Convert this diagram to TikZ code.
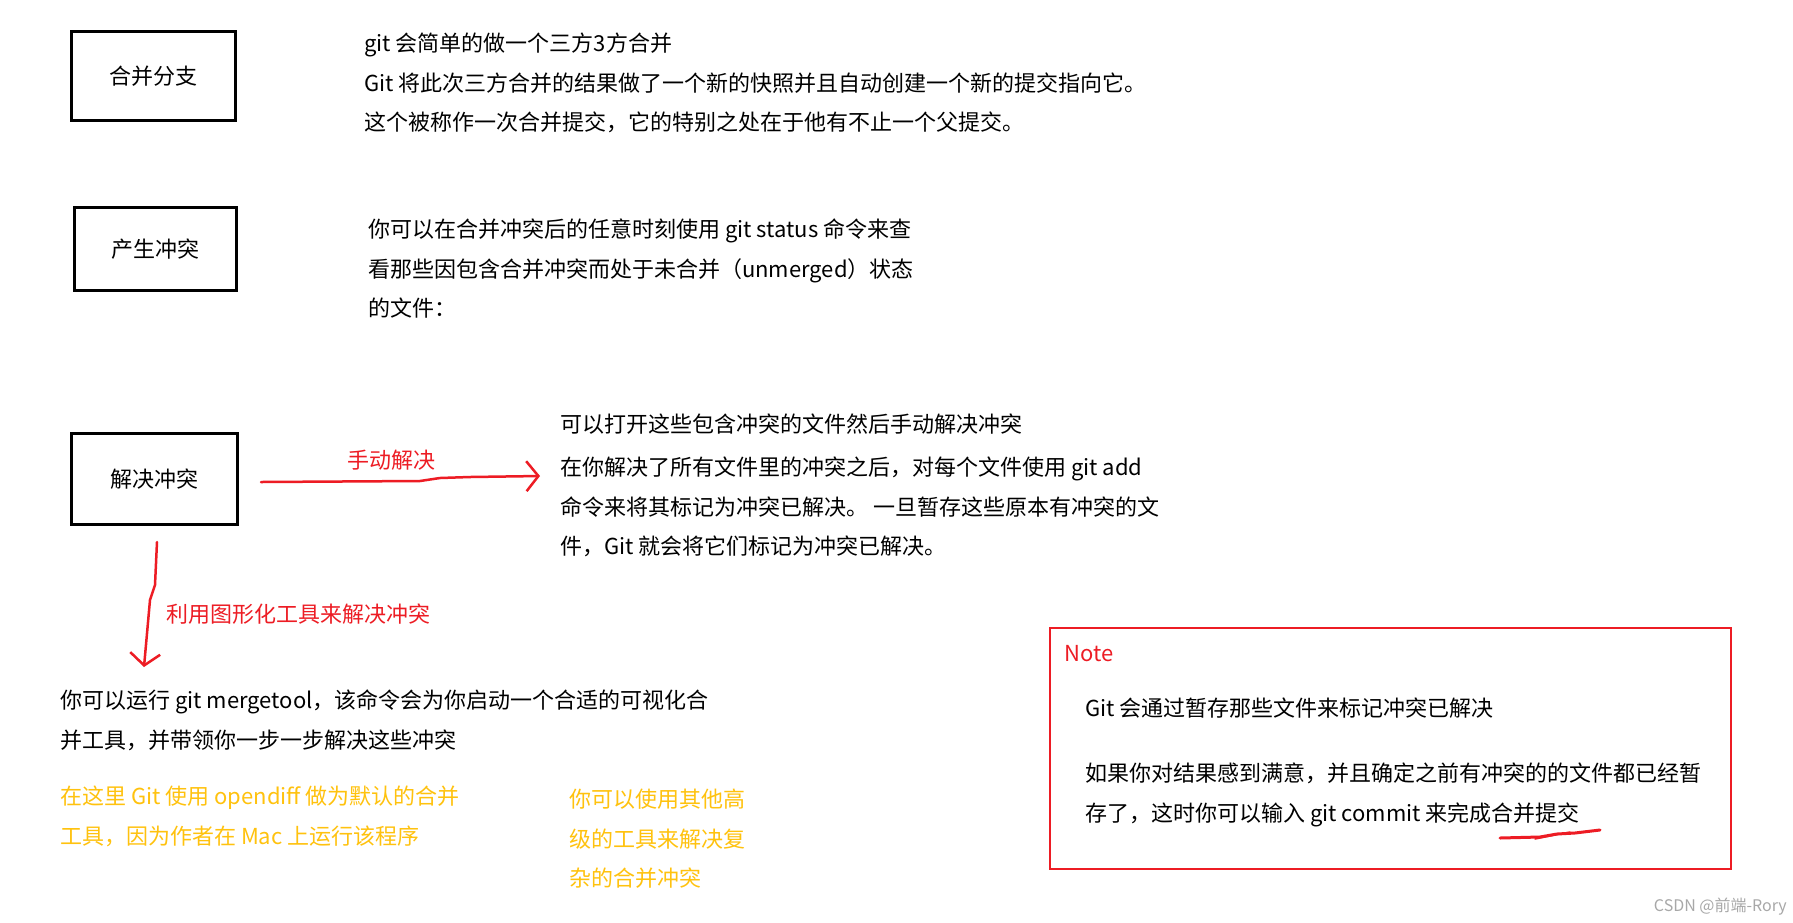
\documentclass[tikz,border=0pt]{standalone}
\usepackage{fontspec}
\setmainfont{Noto Sans CJK SC}
\usetikzlibrary{arrows.meta}
\definecolor{pred}{HTML}{ED1C24}
\definecolor{pgold}{HTML}{FFC20E}
\definecolor{wm}{HTML}{A8A8A8}
\tikzset{
  stepbox/.style={draw=black, line width=3pt, inner sep=0pt},
  txt/.style={anchor=north west, inner sep=0pt, align=left, font=\fontsize{22}{39.5}\selectfont},
  boxlabel/.style={font=\fontsize{22}{26}\selectfont},
  redlabel/.style={text=pred, font=\fontsize{22}{26}\selectfont},
  hand/.style={draw=pred, line width=2.5pt, line cap=round, line join=round},
  handtip/.style={-{Straight Barb[length=12pt,width=30pt,line width=2.5pt]}}
}
\begin{document}
\begin{tikzpicture}[x=1pt,y=-1pt]
\useasboundingbox[fill=white] (0,0) rectangle (1793,922);

% boxes
\node[stepbox, minimum width=164pt, minimum height=89pt] (merge) at (153,76) {};
\node[boxlabel] at (merge.center) {合并分支};
\node[stepbox, minimum width=162pt, minimum height=83pt] (conflict) at (155,249) {};
\node[boxlabel] at (conflict.center) {产生冲突};
\node[stepbox, minimum width=166pt, minimum height=91pt] (resolve) at (154,479) {};
\node[boxlabel] at (resolve.center) {解决冲突};

% text blocks
\node[txt] (t1) at (364,33) {git 会简单的做一个三方3方合并\\Git 将此次三方合并的结果做了一个新的快照并且自动创建一个新的提交指向它。\\这个被称作一次合并提交，它的特别之处在于他有不止一个父提交。};
\node[txt] (t2) at (368,219) {你可以在合并冲突后的任意时刻使用 git status 命令来查\\看那些因包含合并冲突而处于未合并（unmerged）状态\\的文件：};
\node[txt] (t3a) at (560,414) {可以打开这些包含冲突的文件然后手动解决冲突};
\node[txt] (t3) at (560,457) {在你解决了所有文件里的冲突之后，对每个文件使用 git add\\命令来将其标记为冲突已解决。 一旦暂存这些原本有冲突的文\\件，Git 就会将它们标记为冲突已解决。};

% manual arrow
\coordinate (m1) at (261,482);
\coordinate (m2) at (540,476);
\draw[hand, handtip] (m1) -- (420,481) -- (440,478) -- (470,477) -- (m2);
\node[redlabel] (manual) at (391,460) {手动解决};

% tool arrow
\coordinate (d1) at (157,542);
\coordinate (d2) at (144,667);
\draw[hand, handtip] (d1) -- (155,585) -- (150,600) -- (d2);
\node[redlabel, anchor=west] (tool) at (163,614) {利用图形化工具来解决冲突};

\node[txt] (t4) at (60,690) {你可以运行 git mergetool，该命令会为你启动一个合适的可视化合\\并工具，并带领你一步一步解决这些冲突};
\node[txt, text=pgold] (t5) at (60,786) {在这里 Git 使用 opendiff 做为默认的合并\\工具，因为作者在 Mac 上运行该程序};
\node[txt, text=pgold] (t6) at (569,789) {你可以使用其他高\\级的工具来解决复\\杂的合并冲突};

% note box
\draw[draw=pred, line width=2.5pt] (1050,628) rectangle (1731,869);
\node[redlabel, anchor=west, inner sep=0pt] (note) at (1064,654) {Note};
\node[txt] (n1) at (1085,698) {Git 会通过暂存那些文件来标记冲突已解决};
\node[txt] (n2) at (1085,763) {如果你对结果感到满意，并且确定之前有冲突的的文件都已经暂\\存了，这时你可以输入 git commit 来完成合并提交};
\draw[draw=pred, line width=3pt, line cap=round] (1500,838) -- (1540,837) -- (1557,834) -- (1575,833) -- (1600,830);
\draw[draw=pred, line width=1.5pt, line cap=round] (1535,839) -- (1570,832);

% watermark
\node[anchor=east, text=wm, inner sep=0pt, font=\fontsize{16}{18}\selectfont] (wmk) at (1787,907) {CSDN @前端-Rory};
\end{tikzpicture}
\end{document}
